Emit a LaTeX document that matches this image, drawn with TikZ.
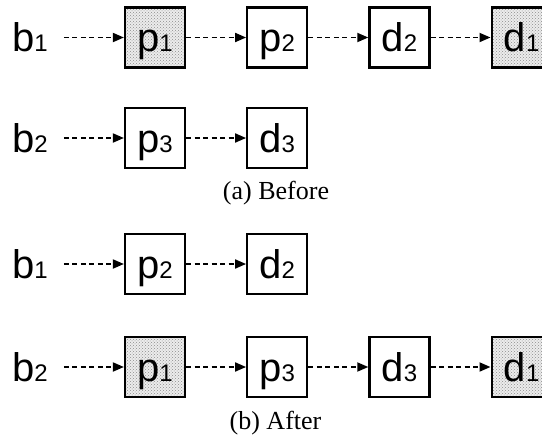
\documentclass[tikz,border=0pt]{standalone}
\usepackage{fontspec}
\setmainfont{Liberation Serif}
\setsansfont{Liberation Sans}
\usetikzlibrary{arrows.meta, positioning, patterns}
\tikzstyle{arrow} = [line width=1.8pt, dash pattern=on 5pt off 3.5pt, -{Triangle[length=11pt,width=9pt]}]

% letter with a small index sitting on the baseline
\newcommand{\blk}[2]{#1{\fontsize{24}{24}\selectfont#2}}

\begin{document}
\begin{tikzpicture}[
 x=1pt, y=1pt,
 block/.style={draw, line width=2.2pt, minimum width=60pt, minimum height=60pt, inner sep=0pt,
   text height=29pt, text depth=1pt, font=\sffamily\fontsize{40}{40}\selectfont},
 hlblock/.style={block, preaction={fill=gray!15}, pattern=crosshatch dots, pattern color=gray!90},
 queue/.style={inner xsep=16pt, inner ysep=0pt, font=\sffamily\fontsize{40}{40}\selectfont},
 caption/.style={font=\fontsize{26}{26}\selectfont},
 ]
 \useasboundingbox (0,0) rectangle (542,-440);

 % (a) before
 \node[hlblock] (ap1) at (155,-37.5) {\blk{p}{1}};
 \node[block, right=60pt of ap1] (ap2) {\blk{p}{2}};
 \node[block, right=60pt of ap2] (ad2) {\blk{d}{2}};
 \node[hlblock, right=60pt of ad2] (ad1) {\blk{d}{1}};
 \node[queue, left=60pt of ap1] (ab1) {\blk{b}{1}};

 \node[block] (ap3) at (155,-138) {\blk{p}{3}};
 \node[block, right=60pt of ap3] (ad3) {\blk{d}{3}};
 \node[queue, left=60pt of ap3] (ab2) {\blk{b}{2}};

 \node[caption] (capa) at (276,-193) {(a) Before};

 \draw[arrow] (ab1) -- (ap1);
 \draw[arrow] (ap1) -- (ap2);
 \draw[arrow] (ap2) -- (ad2);
 \draw[arrow] (ad2) -- (ad1);
 \draw[arrow] (ab2) -- (ap3);
 \draw[arrow] (ap3) -- (ad3);

 % (b) after
 \node[block] (bp2) at (155,-264) {\blk{p}{2}};
 \node[block, right=60pt of bp2] (bd2) {\blk{d}{2}};
 \node[queue, left=60pt of bp2] (bb1) {\blk{b}{1}};

 \node[hlblock] (bp1) at (155,-367) {\blk{p}{1}};
 \node[block, right=60pt of bp1] (bp3) {\blk{p}{3}};
 \node[block, right=60pt of bp3] (bd3) {\blk{d}{3}};
 \node[hlblock, right=60pt of bd3] (bd1) {\blk{d}{1}};
 \node[queue, left=60pt of bp1] (bb2) {\blk{b}{2}};

 \node[caption] (capb) at (275.5,-423) {(b) After};

 \draw[arrow] (bb1) -- (bp2);
 \draw[arrow] (bp2) -- (bd2);
 \draw[arrow] (bb2) -- (bp1);
 \draw[arrow] (bp1) -- (bp3);
 \draw[arrow] (bp3) -- (bd3);
 \draw[arrow] (bd3) -- (bd1);
\end{tikzpicture}
\end{document}
